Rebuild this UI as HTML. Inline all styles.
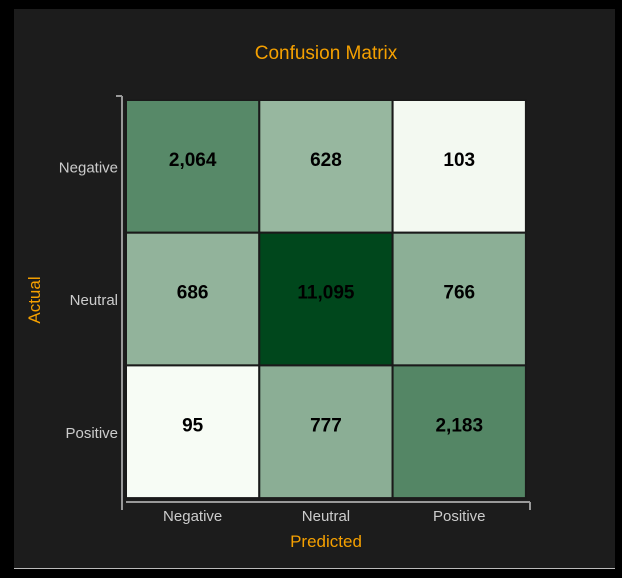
<!DOCTYPE html>
<html><head><meta charset="utf-8"><style>
html,body{margin:0;padding:0;background:#000;}
body{width:622px;height:573px;overflow:hidden;position:relative;font-family:"Liberation Sans",sans-serif;}
</style></head><body>
<svg width="622" height="573">
<rect x="14" y="9" width="601" height="559" fill="#1c1c1c"/>
<line x1="14" y1="568.5" x2="615" y2="568.5" stroke="#bbb" stroke-width="1"/>
<text x="326" y="59" text-anchor="middle" font-size="19" fill="#f5a000">Confusion Matrix</text>
<g id="cells"></g>
<line x1="122" y1="96" x2="122" y2="498" stroke="#999" stroke-width="2"/>
<line x1="116" y1="96" x2="122" y2="96" stroke="#999" stroke-width="2"/>
<line x1="126" y1="502" x2="530" y2="502" stroke="#999" stroke-width="2"/>
<line x1="530" y1="502" x2="530" y2="510" stroke="#999" stroke-width="2"/>
<line x1="122" y1="498" x2="122" y2="510" stroke="#999" stroke-width="2"/>
<g id="labels"></g>
<text x="326" y="547" text-anchor="middle" font-size="17" fill="#f5a000">Predicted</text>
<text transform="translate(40,300) rotate(-90)" text-anchor="middle" font-size="17" fill="#f5a000">Actual</text>
</svg>
<script>
const categories = ["Negative","Neutral","Positive"];
const row0 = [2064, 628, 103];
const row1 = [686, 11095, 766];
const row2 = [95, 777, 2183];
const values = [row0, row1, row2];
const NS="http://www.w3.org/2000/svg";
const x0=126,y0=100,cw=133.3,ch=132.7;
const all=values.flat(), vmin=Math.min(...all), vmax=Math.max(...all);
const stops=[[0,[247,252,245]],[0.4,[150,182,158]],[0.65,[86,136,103]],[1,[0,71,28]]];
function color(v){
  const t=Math.log(v/vmin)/Math.log(vmax/vmin);
  for(let i=1;i<stops.length;i++){
    if(t<=stops[i][0]){
      const a=stops[i-1],b=stops[i],f=(t-a[0])/(b[0]-a[0]);
      return "rgb("+a[1].map((c,k)=>Math.round(c+(b[1][k]-c)*f)).join(",")+")";
    }
  }
  return "rgb(0,71,28)";
}
const cells=document.getElementById('cells'), labels=document.getElementById('labels');
values.forEach((row,r)=>row.forEach((v,c)=>{
  const rect=document.createElementNS(NS,'rect');
  rect.setAttribute('x',x0+c*cw);rect.setAttribute('y',y0+r*ch);
  rect.setAttribute('width',cw);rect.setAttribute('height',ch);
  rect.setAttribute('fill',color(v));rect.setAttribute('stroke','#1a1a1a');rect.setAttribute('stroke-width','2');
  
  
  cells.appendChild(rect);
  const t=document.createElementNS(NS,'text');
  t.setAttribute('x',x0+(c+0.5)*cw);t.setAttribute('y',y0+r*ch+66);
  t.setAttribute('text-anchor','middle');t.setAttribute('font-size','19');t.setAttribute('font-weight','bold');
  t.setAttribute('fill','#000');t.textContent=v.toLocaleString('en-US');
  
  
  cells.appendChild(t);
}));
categories.forEach((cat,i)=>{
  const tx=document.createElementNS(NS,'text');
  tx.setAttribute('x',x0+(i+0.5)*cw);tx.setAttribute('y',521);
  tx.setAttribute('text-anchor','middle');tx.setAttribute('font-size','15');tx.setAttribute('fill','#ccc');
  tx.textContent=cat;
  
  
  labels.appendChild(tx);
  const ty=document.createElementNS(NS,'text');
  ty.setAttribute('x',118);ty.setAttribute('y',y0+(i+0.5)*ch+6);
  ty.setAttribute('text-anchor','end');ty.setAttribute('font-size','15');ty.setAttribute('fill','#ccc');
  ty.textContent=cat;
  
  
  labels.appendChild(ty);
});
</script>
</body></html>
